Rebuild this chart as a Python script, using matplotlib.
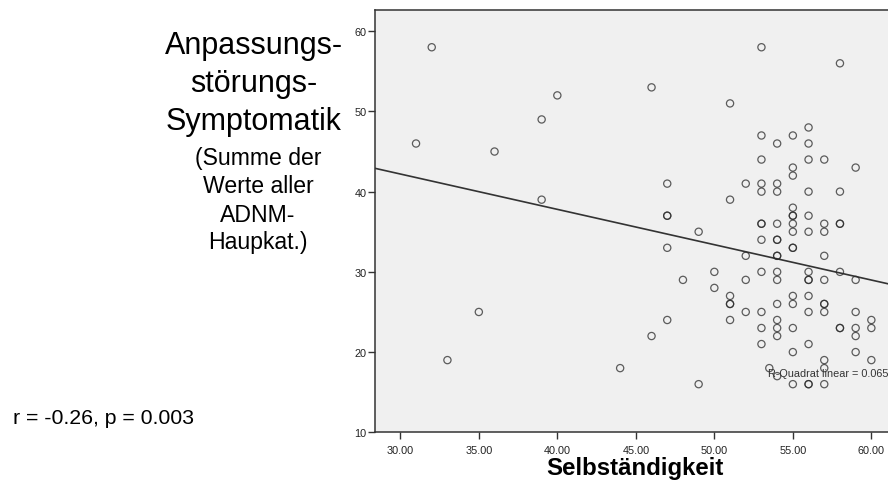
import numpy as np
import matplotlib
matplotlib.use("Agg")
import matplotlib.pyplot as plt

plt.rcParams['font.family'] = ['Liberation Sans', 'DejaVu Sans']

# Selbständigkeit (x) vs. ADNM sum score (y), one entry per participant
selbst = [31, 32, 33, 35, 36, 39, 39, 40, 44, 46, 46,
          47, 47, 47, 47, 47, 48, 49, 49, 50, 50,
          51, 51, 51, 51, 51, 51, 52, 52, 52, 52,
          53, 53, 53, 53, 53, 53, 53, 53, 53, 53, 53, 53, 53.5,
          54, 54, 54, 54, 54, 54, 54, 54, 54, 54, 54, 54, 54, 54, 54,
          55, 55, 55, 55, 55, 55, 55, 55, 55, 55, 55, 55, 55, 55, 55,
          56, 56, 56, 56, 56, 56, 56, 56, 56, 56, 56, 56, 56, 56,
          57, 57, 57, 57, 57, 57, 57, 57, 57, 57, 57,
          58, 58, 58, 58, 58, 58, 58,
          59, 59, 59, 59, 59, 59,
          60, 60, 60]
adnm = [46, 58, 19, 25, 45, 49, 39, 52, 18, 53, 22,
        41, 37, 37, 33, 24, 29, 35, 16, 30, 28,
        51, 39, 27, 26, 26, 24, 41, 32, 29, 25,
        58, 47, 44, 41, 40, 36, 36, 34, 30, 25, 23, 21, 18,
        46, 41, 40, 36, 34, 34, 32, 32, 30, 29, 26, 24, 23, 22, 17,
        47, 43, 42, 38, 37, 37, 36, 35, 33, 33, 27, 26, 23, 20, 16,
        48, 46, 44, 40, 37, 35, 30, 29, 29, 27, 25, 21, 16, 16,
        44, 36, 35, 32, 29, 26, 26, 25, 19, 18, 16,
        56, 40, 36, 36, 30, 23, 23,
        43, 29, 25, 23, 22, 20,
        24, 23, 19]

x_ticks = [30, 35, 40, 45, 50, 55, 60]
y_ticks = [10, 20, 30, 40, 50, 60]
r_squared = 0.065
stats_text = "r = -0.26, p = 0.003"

fig = plt.figure(figsize=(8.88, 4.85), dpi=100)
ax = fig.add_axes([0.422, 0.1066, 0.578, 0.870])
ax.set_facecolor('#f0f0f0')

ax.scatter(selbst, adnm, s=27, facecolors='none', edgecolors='#2a2a2a',
           linewidths=0.9, alpha=0.75, zorder=3)

# linear fit line across the full x range
xlo, xhi = 28.37, 61.06
coef = np.polyfit(selbst, adnm, 1)
xs = np.array([xlo, xhi])
ax.plot(xs, np.polyval(coef, xs), color='#333333', lw=1.2, zorder=2)

ax.set_xlim(xlo, xhi)
ax.set_ylim(10, 62.6)
ax.set_xticks(x_ticks)
ax.set_xticklabels([f"{t:.2f}" for t in x_ticks])
ax.set_yticks(y_ticks)
ax.tick_params(direction='out', length=5, width=1, color='#333333',
               labelsize=7.8, labelcolor='#222222')
ax.tick_params(axis='y', pad=1)
ax.tick_params(axis='x', pad=4)
for side in ['left', 'top', 'bottom']:
    ax.spines[side].set_color('#333333')
    ax.spines[side].set_linewidth(1.1)
ax.spines['right'].set_visible(False)

ax.text(53.42, 17.4, f"R-Quadrat linear = {r_squared}", fontsize=7.8,
        color='#333333', ha='left', va='center', zorder=4)

# y axis title, written as stacked lines left of the axes
big_lines = ["Anpassungs-", "störungs-", "Symptomatik"]
big_base = [54, 92, 130]
for txt, yb in zip(big_lines, big_base):
    fig.text(254 / 888, 1 - yb / 485, txt, fontsize=22, ha='center',
             va='baseline', color='#000000')
small_lines = ["(Summe der", "Werte aller", "ADNM-", "Haupkat.)"]
small_base = [165, 193, 222, 249]
for txt, yb in zip(small_lines, small_base):
    fig.text(258 / 888, 1 - yb / 485, txt, fontsize=16.6, ha='center',
             va='baseline', color='#000000')

fig.text(635 / 888, 1 - 475 / 485, "Selbständigkeit", fontsize=17.3,
         fontweight='bold', ha='center', va='baseline', color='#000000')
fig.text(13 / 888, 1 - 424 / 485, stats_text, fontsize=15.3, ha='left',
         va='baseline', color='#000000')

fig.savefig('out.png', dpi=100)
